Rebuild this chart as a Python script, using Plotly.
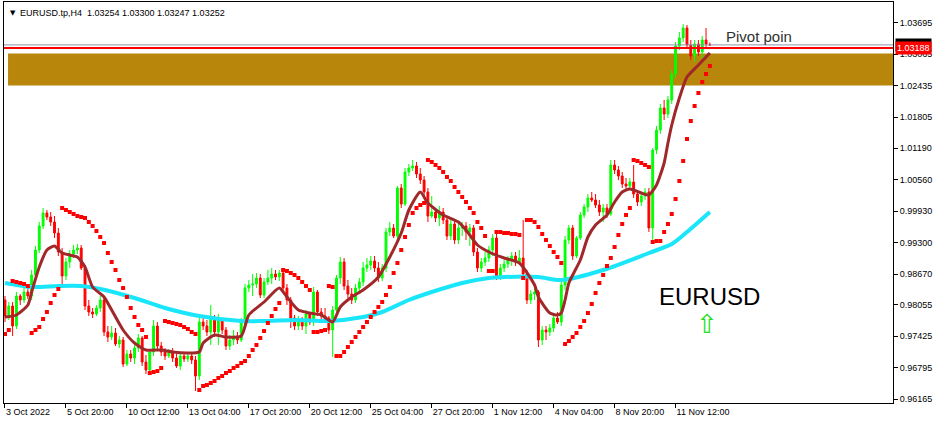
import plotly.graph_objects as go

# ---------------- data (EURUSD.tp, H4) ----------------
tick_idx = [0, 16, 32, 48, 64, 80, 96, 112, 128, 144, 160, 176]
tick_labels = ["3 Oct 2022", "5 Oct 20:00", "10 Oct 12:00", "13 Oct 04:00", "17 Oct 20:00",
               "20 Oct 12:00", "25 Oct 04:00", "27 Oct 20:00", "1 Nov 12:00", "4 Nov 04:00",
               "8 Nov 20:00", "11 Nov 12:00"]

price_ticks = [1.03695, 1.03065, 1.02435, 1.01805, 1.01190, 1.00560, 0.99930, 0.99300,
               0.98670, 0.98055, 0.97425, 0.96795, 0.96165]

open_ = [
    0.9815, 0.9783, 0.9803, 0.9763, 0.9823, 0.9815, 0.9831, 0.9823, 0.9865, 0.9915,
    0.9963, 0.9989, 0.9981, 0.9971, 0.9949, 0.9911, 0.9863, 0.9891, 0.9907, 0.9915,
    0.9919, 0.9879, 0.9803, 0.9791, 0.9787, 0.9799, 0.9815, 0.9751, 0.9741, 0.9749,
    0.9727, 0.9735, 0.9687, 0.9707, 0.9699, 0.9719, 0.9739, 0.9691, 0.9675, 0.9711,
    0.9763, 0.9723, 0.9711, 0.9703, 0.9711, 0.9699, 0.9683, 0.9703, 0.9697, 0.9703,
    0.9695, 0.9663, 0.9771, 0.9763, 0.9751, 0.9779, 0.9751, 0.9775, 0.9755, 0.9723,
    0.9735, 0.9743, 0.9735, 0.9769, 0.9839, 0.9845, 0.9847, 0.9859, 0.9825, 0.9851,
    0.9859, 0.9867, 0.9861, 0.9869, 0.9839, 0.9815, 0.9779, 0.9763, 0.9775, 0.9763,
    0.9787, 0.9771, 0.9831, 0.9791, 0.9783, 0.9779, 0.9755, 0.9795, 0.9859, 0.9891,
    0.9843, 0.9827, 0.9815, 0.9839, 0.9851, 0.9879, 0.9885, 0.9893, 0.9879, 0.9859,
    0.9879, 0.9951, 0.9959, 0.9943, 1.0039, 1.0007, 1.0071, 1.0079, 1.0083, 1.0067,
    1.0055, 1.0031, 0.9983, 0.9991, 0.9979, 0.9991, 0.9975, 0.9943, 0.9967, 0.9935,
    0.9959, 0.9963, 0.9951, 0.9959, 0.9911, 0.9879, 0.9891, 0.9899, 0.9915, 0.9939,
    0.9863, 0.9879, 0.9887, 0.9895, 0.9903, 0.9891, 0.9899, 0.9867, 0.9815, 0.9827,
    0.9831, 0.9735, 0.9755, 0.9751, 0.9759, 0.9779, 0.9771, 0.9845, 0.9935, 0.9959,
    0.9903, 0.9939, 0.9985, 1.0001, 1.0019, 1.0015, 1.0005, 0.9991, 0.9999, 0.9987,
    1.0085, 1.0075, 1.0063, 1.0047, 1.0043, 1.0051, 1.0027, 1.0011, 1.0023, 1.0031,
    0.9959, 1.0115, 1.0155, 1.0199, 1.0187, 1.0215, 1.0267, 1.0323, 1.0339, 1.0359,
    1.0325, 1.0303, 1.0327, 1.0311, 1.0335, 1.03254]

high = [
    0.9823, 0.9811, 0.9811, 0.9831, 0.9827, 0.9839, 0.9843, 0.9875, 0.9923, 0.9971,
    0.9999, 0.9995, 0.9991, 0.9983, 0.9959, 0.9919, 0.9899, 0.9915, 0.9925, 0.9927,
    0.9925, 0.9885, 0.9815, 0.9799, 0.9805, 0.9823, 0.9819, 0.9763, 0.9763, 0.9759,
    0.9743, 0.9741, 0.9715, 0.9715, 0.9725, 0.9747, 0.9743, 0.9705, 0.9711, 0.9775,
    0.9771, 0.9731, 0.9719, 0.9717, 0.9719, 0.9711, 0.9711, 0.9711, 0.9709, 0.9711,
    0.9703, 0.9779, 0.9779, 0.9775, 0.9805, 0.9785, 0.9787, 0.9779, 0.9761, 0.9745,
    0.9755, 0.9751, 0.9779, 0.9847, 0.9855, 0.9867, 0.9869, 0.9867, 0.9859, 0.9875,
    0.9879, 0.9875, 0.9875, 0.9875, 0.9847, 0.9821, 0.9785, 0.9783, 0.9781, 0.9795,
    0.9791, 0.9841, 0.9835, 0.9799, 0.9799, 0.9783, 0.9803, 0.9865, 0.9901, 0.9899,
    0.9855, 0.9839, 0.9847, 0.9859, 0.9891, 0.9899, 0.9903, 0.9903, 0.9891, 0.9887,
    0.9959, 0.9971, 0.9967, 1.0043, 1.0047, 1.0079, 1.0087, 1.0095, 1.0091, 1.0079,
    1.0063, 1.0039, 1.0023, 0.9999, 1.0003, 0.9999, 0.9983, 0.9975, 0.9975, 0.9971,
    0.9971, 0.9971, 0.9967, 0.9965, 0.9919, 0.9899, 0.9911, 0.9923, 0.9947, 0.9947,
    0.9887, 0.9895, 0.9903, 0.9911, 0.9911, 0.9915, 0.9975, 0.9875, 0.9835, 0.9839,
    0.9835, 0.9763, 0.9763, 0.9767, 0.9787, 0.9791, 0.9851, 0.9943, 0.9965, 0.9965,
    0.9943, 0.9991, 1.0007, 1.0027, 1.0031, 1.0027, 1.0015, 1.0007, 1.0007, 1.0095,
    1.0095, 1.0083, 1.0071, 1.0059, 1.0059, 1.0085, 1.0035, 1.0031, 1.0039, 1.0039,
    1.0119, 1.0163, 1.0207, 1.0215, 1.0223, 1.0275, 1.0331, 1.0351, 1.0367, 1.0365,
    1.0335, 1.0335, 1.0335, 1.0343, 1.0359, 1.03300]

low = [
    0.9771, 0.9775, 0.9743, 0.9757, 0.9805, 0.9809, 0.9817, 0.9815, 0.9859, 0.9909,
    0.9957, 0.9975, 0.9963, 0.9939, 0.9903, 0.9839, 0.9855, 0.9879, 0.9899, 0.9907,
    0.9875, 0.9795, 0.9783, 0.9779, 0.9783, 0.9791, 0.9743, 0.9731, 0.9735, 0.9723,
    0.9719, 0.9681, 0.9683, 0.9691, 0.9687, 0.9711, 0.9683, 0.9667, 0.9671, 0.9703,
    0.9715, 0.9703, 0.9695, 0.9699, 0.9691, 0.9679, 0.9675, 0.9691, 0.9691, 0.9687,
    0.9633, 0.9655, 0.9755, 0.9743, 0.9725, 0.9741, 0.9725, 0.9747, 0.9715, 0.9715,
    0.9725, 0.9727, 0.9731, 0.9763, 0.9831, 0.9823, 0.9839, 0.9819, 0.9819, 0.9845,
    0.9847, 0.9855, 0.9853, 0.9831, 0.9805, 0.9759, 0.9755, 0.9755, 0.9755, 0.9747,
    0.9765, 0.9763, 0.9783, 0.9775, 0.9771, 0.9747, 0.9701, 0.9791, 0.9847, 0.9835,
    0.9819, 0.9807, 0.9809, 0.9831, 0.9843, 0.9871, 0.9875, 0.9871, 0.9851, 0.9853,
    0.9871, 0.9943, 0.9939, 0.9935, 0.9999, 1.0003, 1.0063, 1.0073, 1.0059, 1.0047,
    1.0023, 0.9971, 0.9979, 0.9971, 0.9963, 0.9967, 0.9935, 0.9935, 0.9927, 0.9927,
    0.9943, 0.9935, 0.9923, 0.9903, 0.9871, 0.9871, 0.9883, 0.9891, 0.9903, 0.9855,
    0.9855, 0.9871, 0.9879, 0.9883, 0.9883, 0.9887, 0.9859, 0.9807, 0.9807, 0.9815,
    0.9721, 0.9725, 0.9735, 0.9743, 0.9751, 0.9767, 0.9763, 0.9835, 0.9927, 0.9895,
    0.9899, 0.9935, 0.9979, 0.9991, 1.0011, 0.9999, 0.9983, 0.9971, 0.9979, 0.9983,
    1.0067, 1.0055, 1.0039, 1.0035, 1.0035, 1.0019, 1.0003, 1.0003, 1.0015, 0.9951,
    0.9931, 1.0107, 1.0147, 1.0175, 1.0179, 1.0207, 1.0259, 1.0315, 1.0331, 1.0319,
    1.0295, 1.0291, 1.0303, 1.0299, 1.0319, 1.03247]

close = [
    0.9783, 0.9803, 0.9763, 0.9823, 0.9815, 0.9831, 0.9823, 0.9865, 0.9915, 0.9963,
    0.9989, 0.9981, 0.9971, 0.9949, 0.9911, 0.9863, 0.9891, 0.9907, 0.9915, 0.9919,
    0.9879, 0.9803, 0.9791, 0.9787, 0.9799, 0.9815, 0.9751, 0.9741, 0.9749, 0.9727,
    0.9735, 0.9687, 0.9707, 0.9699, 0.9719, 0.9739, 0.9691, 0.9675, 0.9711, 0.9763,
    0.9723, 0.9711, 0.9703, 0.9711, 0.9699, 0.9683, 0.9703, 0.9697, 0.9703, 0.9695,
    0.9663, 0.9771, 0.9763, 0.9751, 0.9779, 0.9751, 0.9775, 0.9755, 0.9723, 0.9735,
    0.9743, 0.9735, 0.9769, 0.9839, 0.9845, 0.9847, 0.9859, 0.9825, 0.9851, 0.9859,
    0.9867, 0.9861, 0.9869, 0.9839, 0.9815, 0.9779, 0.9763, 0.9775, 0.9763, 0.9787,
    0.9771, 0.9831, 0.9791, 0.9783, 0.9779, 0.9755, 0.9795, 0.9859, 0.9891, 0.9843,
    0.9827, 0.9815, 0.9839, 0.9851, 0.9879, 0.9885, 0.9893, 0.9879, 0.9859, 0.9879,
    0.9951, 0.9959, 0.9943, 1.0039, 1.0007, 1.0071, 1.0079, 1.0083, 1.0067, 1.0055,
    1.0031, 0.9983, 0.9991, 0.9979, 0.9991, 0.9975, 0.9943, 0.9967, 0.9935, 0.9959,
    0.9963, 0.9951, 0.9959, 0.9911, 0.9879, 0.9891, 0.9899, 0.9915, 0.9939, 0.9863,
    0.9879, 0.9887, 0.9895, 0.9903, 0.9891, 0.9899, 0.9867, 0.9815, 0.9827, 0.9831,
    0.9735, 0.9755, 0.9751, 0.9759, 0.9779, 0.9771, 0.9845, 0.9935, 0.9959, 0.9903,
    0.9939, 0.9985, 1.0001, 1.0019, 1.0015, 1.0005, 0.9991, 0.9999, 0.9987, 1.0085,
    1.0075, 1.0063, 1.0047, 1.0043, 1.0051, 1.0027, 1.0011, 1.0023, 1.0031, 0.9959,
    1.0115, 1.0155, 1.0199, 1.0187, 1.0215, 1.0267, 1.0323, 1.0339, 1.0359, 1.0325,
    1.0303, 1.0327, 1.0311, 1.0335, 1.0327, 1.03252]

# Parabolic SAR dots, one per bar
sar = [
    0.9747, 0.9755, 0.9853, 0.9851, 0.9849, 0.9847, 0.9843, 0.9749, 0.9755, 0.9761,
    0.9777, 0.9791, 0.9809, 0.9825, 0.9837, 0.9999, 0.9995, 0.9991, 0.9987, 0.9983,
    0.9981, 0.9979, 0.9971, 0.9963, 0.9953, 0.9941, 0.9929, 0.9909, 0.9891, 0.9875,
    0.9855, 0.9839, 0.9821, 0.9799, 0.9781, 0.9765, 0.9755, 0.9741, 0.9669, 0.9671,
    0.9673, 0.9679, 0.9773, 0.9771, 0.9769, 0.9767, 0.9765, 0.9761, 0.9757, 0.9751,
    0.9747, 0.9635, 0.9643, 0.9645, 0.9649, 0.9653, 0.9659, 0.9663, 0.9669, 0.9673,
    0.9679, 0.9683, 0.9689, 0.9693, 0.9703, 0.9715, 0.9725, 0.9739, 0.9753, 0.9769,
    0.9783, 0.9797, 0.9809, 0.9875, 0.9873, 0.9869, 0.9865, 0.9859, 0.9851, 0.9843,
    0.9835, 0.9751, 0.9751, 0.9753, 0.9755, 0.9843, 0.9841, 0.9703, 0.9703, 0.9711,
    0.9721, 0.9731, 0.9741, 0.9751, 0.9761, 0.9771, 0.9781, 0.9791, 0.9801, 0.9811,
    0.9825, 0.9841, 0.9869, 0.9889, 0.9915, 0.9941, 0.9965, 0.9989, 0.9999, 1.0005,
    1.0009, 1.0095, 1.0091, 1.0085, 1.0079, 1.0071, 1.0061, 1.0053, 1.0041, 1.0031,
    1.0021, 1.0011, 0.9999, 0.9989, 0.9971, 0.9959, 0.9943, 0.9873, 0.9873, 0.9951,
    0.9951, 0.9949, 0.9949, 0.9947, 0.9947, 0.9945, 0.9859, 0.9975, 0.9975, 0.9971,
    0.9961, 0.9947, 0.9935, 0.9923, 0.9911, 0.9901, 0.9889, 0.9727, 0.9733, 0.9741,
    0.9749, 0.9761, 0.9773, 0.9789, 0.9807, 0.9829, 0.9849, 0.9865, 0.9883, 0.9899,
    0.9921, 0.9945, 0.9967, 0.9985, 0.9999, 1.0095, 1.0093, 1.0089, 1.0085, 1.0081,
    0.9931, 0.9933, 0.9933, 0.9951, 0.9967, 0.9987, 1.0017, 1.0053, 1.0093, 1.0137,
    1.0173, 1.0203, 1.0229, 1.0251, 1.0267, 1.0283]

# slow moving average (cyan), read at sampled bars
ma_slow_idx = [0, 7, 14, 20, 25, 34, 42, 51, 62, 68, 77, 85, 94, 99, 106, 112, 120, 127,
               131, 140, 146, 157, 169, 175, 179, 185]
ma_slow = [0.9849, 0.9841, 0.9843, 0.9843, 0.9837, 0.9819, 0.9799, 0.9783, 0.9773, 0.9773,
           0.9775, 0.9773, 0.9781, 0.9791, 0.9815, 0.9831, 0.9849, 0.9859, 0.9861, 0.9861,
           0.9855, 0.9875, 0.9909, 0.9927, 0.9951, 0.9991]

# fast moving average (brown), read at sampled bars
ma_fast_idx = [0, 3, 6, 7, 9, 11, 13, 15, 17, 19, 21, 23, 26, 28, 31, 34, 37, 41, 44, 48,
               51, 52, 55, 58, 62, 64, 68, 72, 74, 77, 80, 83, 86, 88, 91, 94, 98, 101, 104,
               106, 109, 111, 115, 119, 121, 124, 127, 131, 135, 139, 140, 143, 145, 146,
               147, 148, 151, 153, 155, 158, 160, 162, 164, 167, 169, 171, 173, 174, 175,
               177, 179, 182, 185]
ma_fast = [0.9781, 0.9785, 0.9805, 0.9831, 0.9881, 0.9915, 0.9923, 0.9909, 0.9905, 0.9901,
           0.9881, 0.9841, 0.9821, 0.9795, 0.9755, 0.9729, 0.9715, 0.9715, 0.9711, 0.9709,
           0.9711, 0.9729, 0.9745, 0.9741, 0.9743, 0.9785, 0.9811, 0.9839, 0.9821, 0.9795,
           0.9789, 0.9785, 0.9771, 0.9801, 0.9821, 0.9835, 0.9861, 0.9901, 0.9949, 0.9995,
           1.0031, 1.0009, 0.9985, 0.9971, 0.9955, 0.9925, 0.9911, 0.9899, 0.9889, 0.9845,
           0.9821, 0.9789, 0.9785, 0.9789, 0.9815, 0.9849, 0.9895, 0.9941, 0.9965, 0.9985,
           1.0011, 1.0031, 1.0037, 1.0029, 1.0025, 1.0045, 1.0089, 1.0129, 1.0165, 1.0219,
           1.0261, 1.0285, 1.0309]

zone_low, zone_high = 1.0244, 1.0308
pivot_level = 1.03188
bid_level = 1.03252

# ---------------- figure ----------------
bars = list(range(len(close)))
X_MIN, X_MAX = -0.26, 233.07
Y_MIN, Y_MAX = 0.9609, 1.0411
FONT = "Liberation Sans"

fig = go.Figure()

fig.add_trace(go.Candlestick(
    x=bars, open=open_, high=high, low=low, close=close,
    increasing=dict(line=dict(color="#00FF00", width=1), fillcolor="#00FF00"),
    decreasing=dict(line=dict(color="#FF0000", width=1), fillcolor="#FF0000"),
    whiskerwidth=0, showlegend=False, hoverinfo="skip"))

fig.add_trace(go.Scatter(x=ma_slow_idx, y=ma_slow, mode="lines",
                         line=dict(color="#19E6FA", width=4, shape="spline", smoothing=0.8),
                         showlegend=False, hoverinfo="skip"))
fig.add_trace(go.Scatter(x=ma_fast_idx, y=ma_fast, mode="lines",
                         line=dict(color="#A0282A", width=3, shape="spline", smoothing=0.6),
                         showlegend=False, hoverinfo="skip"))
fig.add_trace(go.Scatter(x=bars, y=sar, mode="markers",
                         marker=dict(symbol="square", size=4, color="#FF0000"),
                         showlegend=False, hoverinfo="skip"))

# support/resistance zone
fig.add_shape(type="rect", xref="x", yref="y", x0=0.8, x1=X_MAX, y0=zone_low, y1=zone_high,
              fillcolor="#B8860B", line=dict(width=0), layer="below")
# bid line and pivot line
fig.add_shape(type="line", xref="paper", yref="y", x0=0, x1=1, y0=bid_level, y1=bid_level,
              line=dict(color="#8C92A8", width=1))
fig.add_shape(type="line", xref="paper", yref="y", x0=0, x1=1, y0=pivot_level, y1=pivot_level,
              line=dict(color="#FF0000", width=2))

ann = []
ann.append(dict(xref="paper", yref="paper", x=0.0045, y=0.9726, xanchor="left", yanchor="middle",
                text="▼", showarrow=False, font=dict(family="DejaVu Sans", size=7, color="black")))
ann.append(dict(xref="paper", yref="paper", x=0.0158, y=0.9726, xanchor="left", yanchor="middle",
                text="EURUSD.tp,H4  1.03254 1.03300 1.03247 1.03252", showarrow=False,
                font=dict(family=FONT, size=9, color="black")))
ann.append(dict(xref="x", yref="y", x=188.7, y=1.0343, xanchor="left", yanchor="middle",
                text="Pivot poin", showarrow=False, font=dict(family=FONT, size=15, color="#303030")))
ann.append(dict(xref="x", yref="y", x=184.8, y=0.9823, xanchor="center", yanchor="middle",
                text="EURUSD", showarrow=False, font=dict(family=FONT, size=24, color="black")))
ann.append(dict(xref="x", yref="y", x=184.3, y=0.9768, xanchor="center", yanchor="middle",
                text="⇧", showarrow=False, font=dict(family="DejaVu Sans", size=26, color="#22DD22")))
# price labels on the axis
ann.append(dict(xref="paper", yref="y", x=1.0, y=bid_level, xanchor="left", yanchor="middle",
                text="1.03252", showarrow=False, bgcolor="black", borderpad=1, xshift=2,
                font=dict(family=FONT, size=9, color="white")))
ann.append(dict(xref="paper", yref="y", x=1.0, y=pivot_level, xanchor="left", yanchor="middle",
                text="1.03188", showarrow=False, bgcolor="#FF0000", borderpad=1, xshift=2,
                font=dict(family=FONT, size=9, color="white")))

fig.update_layout(
    width=946, height=424,
    margin=dict(l=4, r=53, t=2, b=21, autoexpand=False),
    paper_bgcolor="white", plot_bgcolor="white",
    showlegend=False,
    annotations=ann,
    xaxis=dict(range=[X_MIN, X_MAX], rangeslider=dict(visible=False), showgrid=False,
               zeroline=False, showline=True, linecolor="black", linewidth=1, mirror=True,
               automargin=False,
               tickmode="array", tickvals=tick_idx, ticktext=tick_labels,
               ticks="outside", ticklen=4, tickcolor="black", ticklabelposition="outside right",
               tickfont=dict(family=FONT, size=9, color="black")),
    yaxis=dict(range=[Y_MIN, Y_MAX], side="right", showgrid=False, zeroline=False,
               showline=True, linecolor="black", linewidth=1, mirror=True,
               automargin=False,
               tickmode="array", tickvals=price_ticks, ticktext=[f"{v:.5f}" for v in price_ticks],
               ticks="outside", ticklen=4, tickcolor="black",
               tickfont=dict(family=FONT, size=9, color="black")),
)

fig.write_html("out.html",
               config={"displayModeBar": False},
               post_script="document.body.style.margin='0px';document.body.style.padding='0px';"
                           "document.documentElement.style.overflow='hidden';")
